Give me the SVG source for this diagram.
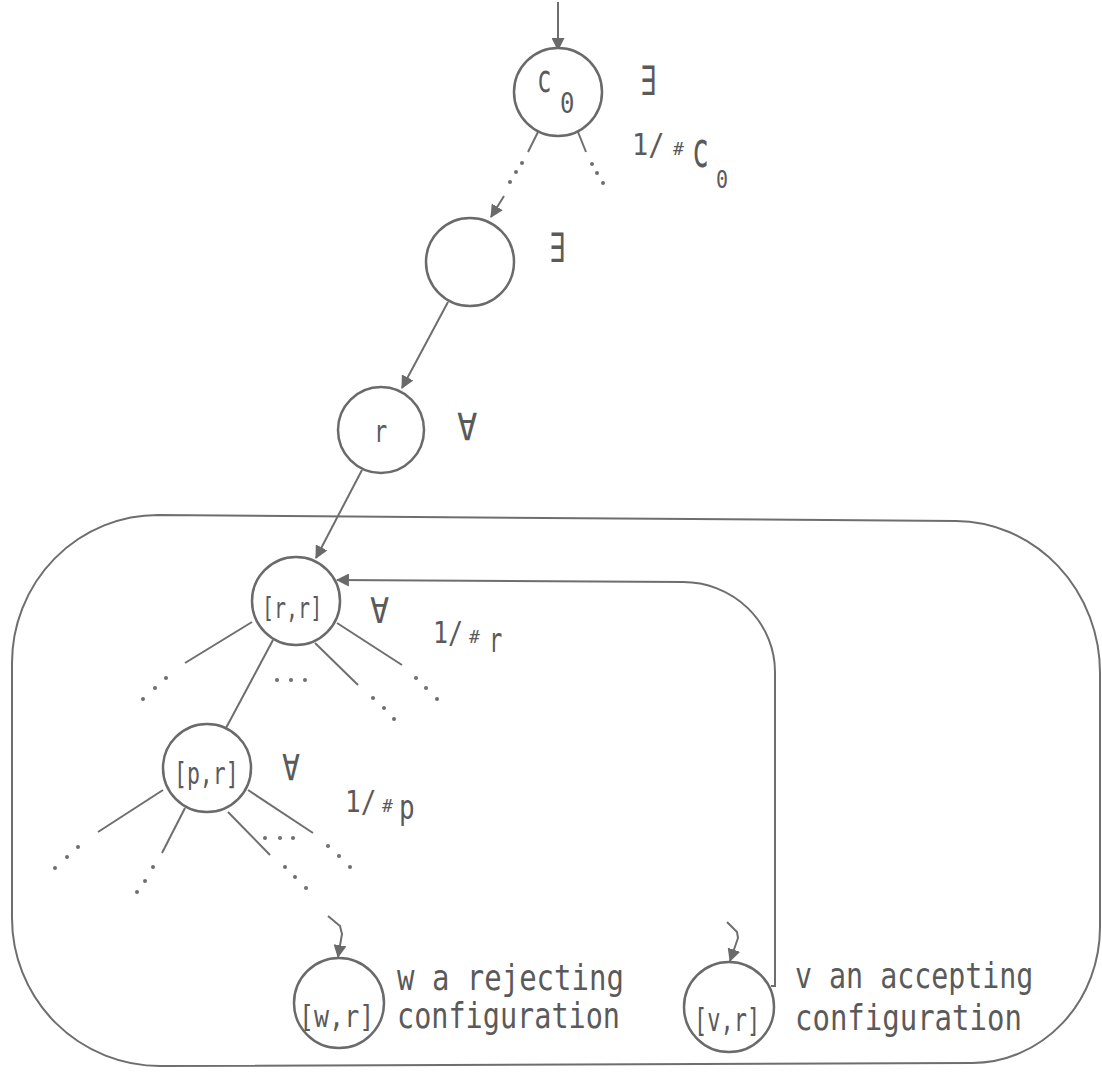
<svg xmlns="http://www.w3.org/2000/svg" width="1102" height="1072" viewBox="0 0 1102 1072">
<defs>
<marker id="ah" viewBox="0 0 12 12" refX="11" refY="6" markerWidth="13" markerHeight="13" markerUnits="userSpaceOnUse" orient="auto">
<path d="M0,0 L12,6 L0,12 Z" fill="#6a6a6a"/>
</marker>
<style>
.ln{stroke:#6e6e6e;stroke-width:2;fill:none}
.arr{stroke:#6e6e6e;stroke-width:2;fill:none;marker-end:url(#ah)}
.nd{stroke:#6a6a6a;stroke-width:2.5;fill:#fff}
.dt{fill:#6e6e6e}
text{font-family:"DejaVu Sans Mono","Liberation Mono",monospace;fill:#5a5a5a}
</style>
</defs>
<rect width="1102" height="1072" fill="#fff"/>

<g id="region">
<path class="ln" d="M158,515 L956,521 A145,152 0 0 1 1100,673 L1100,927 A128,136 0 0 1 972,1063 L160,1066 A148,148 0 0 1 12,918 L12,663 A146,148 0 0 1 158,515 Z"/>
</g>

<g id="connectors">
<line class="arr" x1="558" y1="2" x2="558" y2="50"/>
<line class="ln" x1="538" y1="132" x2="528" y2="152"/>
<circle class="dt" cx="522" cy="163" r="2"/><circle class="dt" cx="516" cy="172" r="2"/><circle class="dt" cx="510" cy="182" r="2"/>
<line class="arr" x1="504" y1="196" x2="491" y2="217"/>
<line class="ln" x1="578" y1="132" x2="586" y2="152"/>
<circle class="dt" cx="592" cy="164" r="2"/><circle class="dt" cx="597" cy="173" r="2"/><circle class="dt" cx="603" cy="183" r="2"/>
<line class="arr" x1="448" y1="302" x2="402" y2="388"/>
<line class="arr" x1="362" y1="470" x2="316" y2="558"/>
<line class="ln" x1="252" y1="622" x2="185" y2="663"/>
<circle class="dt" cx="166" cy="678" r="2"/><circle class="dt" cx="155" cy="688" r="2"/><circle class="dt" cx="143" cy="699" r="2"/>
<line class="ln" x1="273" y1="640" x2="226" y2="728"/>
<circle class="dt" cx="277" cy="680" r="2"/><circle class="dt" cx="291" cy="680" r="2"/><circle class="dt" cx="305" cy="680" r="2"/>
<line class="ln" x1="315" y1="643" x2="358" y2="685"/>
<circle class="dt" cx="373" cy="698" r="2"/><circle class="dt" cx="384" cy="708" r="2"/><circle class="dt" cx="394" cy="719" r="2"/>
<line class="ln" x1="337" y1="623" x2="402" y2="665"/>
<circle class="dt" cx="416" cy="678" r="2"/><circle class="dt" cx="426" cy="688" r="2"/><circle class="dt" cx="437" cy="699" r="2"/>
<line class="ln" x1="163" y1="790" x2="98" y2="832"/>
<circle class="dt" cx="78" cy="847" r="2"/><circle class="dt" cx="67" cy="857" r="2"/><circle class="dt" cx="55" cy="868" r="2"/>
<line class="ln" x1="185" y1="808" x2="162" y2="853"/>
<circle class="dt" cx="153" cy="867" r="2"/><circle class="dt" cx="145" cy="881" r="2"/><circle class="dt" cx="137" cy="892" r="2"/>
<line class="ln" x1="228" y1="812" x2="270" y2="855"/>
<circle class="dt" cx="265" cy="838" r="2"/><circle class="dt" cx="280" cy="838" r="2"/><circle class="dt" cx="293" cy="838" r="2"/>
<circle class="dt" cx="285" cy="867" r="2"/><circle class="dt" cx="295" cy="877" r="2"/><circle class="dt" cx="306" cy="888" r="2"/>
<line class="ln" x1="248" y1="790" x2="313" y2="833"/>
<circle class="dt" cx="328" cy="846" r="2"/><circle class="dt" cx="339" cy="856" r="2"/><circle class="dt" cx="350" cy="867" r="2"/>
<path class="arr" d="M328,916 L340,926 L342,934 L338,957"/>
<path class="arr" d="M727,922 L737,932 L738,938 L730,961"/>
<path class="arr" d="M771,986 L775,986 L775,672 A92,90 0 0 0 683,582 L337,580"/>
</g>

<g id="node-c0">
<circle class="nd" cx="558" cy="92" r="44"/>
<text transform="translate(537,92) scale(1,1.65)" font-size="24">c</text>
<text transform="translate(560,113) scale(1,1.2)" font-size="24">0</text>
<text transform="translate(640,95) scale(1,1.45)" font-size="28">∃</text>
<text transform="translate(632,155) scale(1,1.12)" font-size="27">1/</text>
<text transform="translate(673,155)" font-size="18">#</text>
<text transform="translate(692,167) scale(1,1.8)" font-size="28">c</text>
<text transform="translate(716,188) scale(1,1.25)" font-size="20">0</text>
</g>

<g id="node-exists">
<circle class="nd" cx="470" cy="262" r="44"/>
<text transform="translate(549,262) scale(1,1.45)" font-size="28">∃</text>
</g>

<g id="node-r">
<circle class="nd" cx="381" cy="430" r="43"/>
<text transform="translate(374,442) scale(1,1.4)" font-size="22">r</text>
<text transform="translate(457,440) scale(1,1.1)" font-size="34">∀</text>
</g>

<g id="node-rr">
<circle class="nd" cx="296" cy="601" r="44"/>
<text transform="translate(262,618) scale(1,1.45)" font-size="20">[r,r]</text>
<text transform="translate(370,623) scale(1,1.1)" font-size="32">∀</text>
<text transform="translate(433,643) scale(1,1.2)" font-size="25">1/</text>
<text transform="translate(469,643)" font-size="18">#</text>
<text transform="translate(489,652) scale(1,1.5)" font-size="22">r</text>
</g>

<g id="node-pr">
<circle class="nd" cx="207" cy="768" r="44"/>
<text transform="translate(174,784) scale(1,1.4)" font-size="21.5">[p,r]</text>
<text transform="translate(282,780) scale(1,1.2)" font-size="30">∀</text>
<text transform="translate(345,812) scale(1,1.15)" font-size="26">1/</text>
<text transform="translate(382,812)" font-size="18">#</text>
<text transform="translate(399,819) scale(1,1.3)" font-size="26">p</text>
</g>

<g id="node-wr">
<circle class="nd" cx="339" cy="1003" r="45"/>
<text transform="translate(299,1027) scale(1,1.2)" font-size="25">[w,r]</text>
<text transform="translate(397,990) scale(1,1.25)" font-size="29">w a rejecting</text>
<text transform="translate(397,1028) scale(1,1.25)" font-size="28.5">configuration</text>
</g>

<g id="node-vr">
<circle class="nd" cx="729" cy="1007" r="45"/>
<text transform="translate(694,1031) scale(1,1.45)" font-size="22">[v,r]</text>
<text transform="translate(795,988) scale(1,1.25)" font-size="28.3">v an accepting</text>
<text transform="translate(795,1030) scale(1,1.25)" font-size="29">configuration</text>
</g>
</svg>
